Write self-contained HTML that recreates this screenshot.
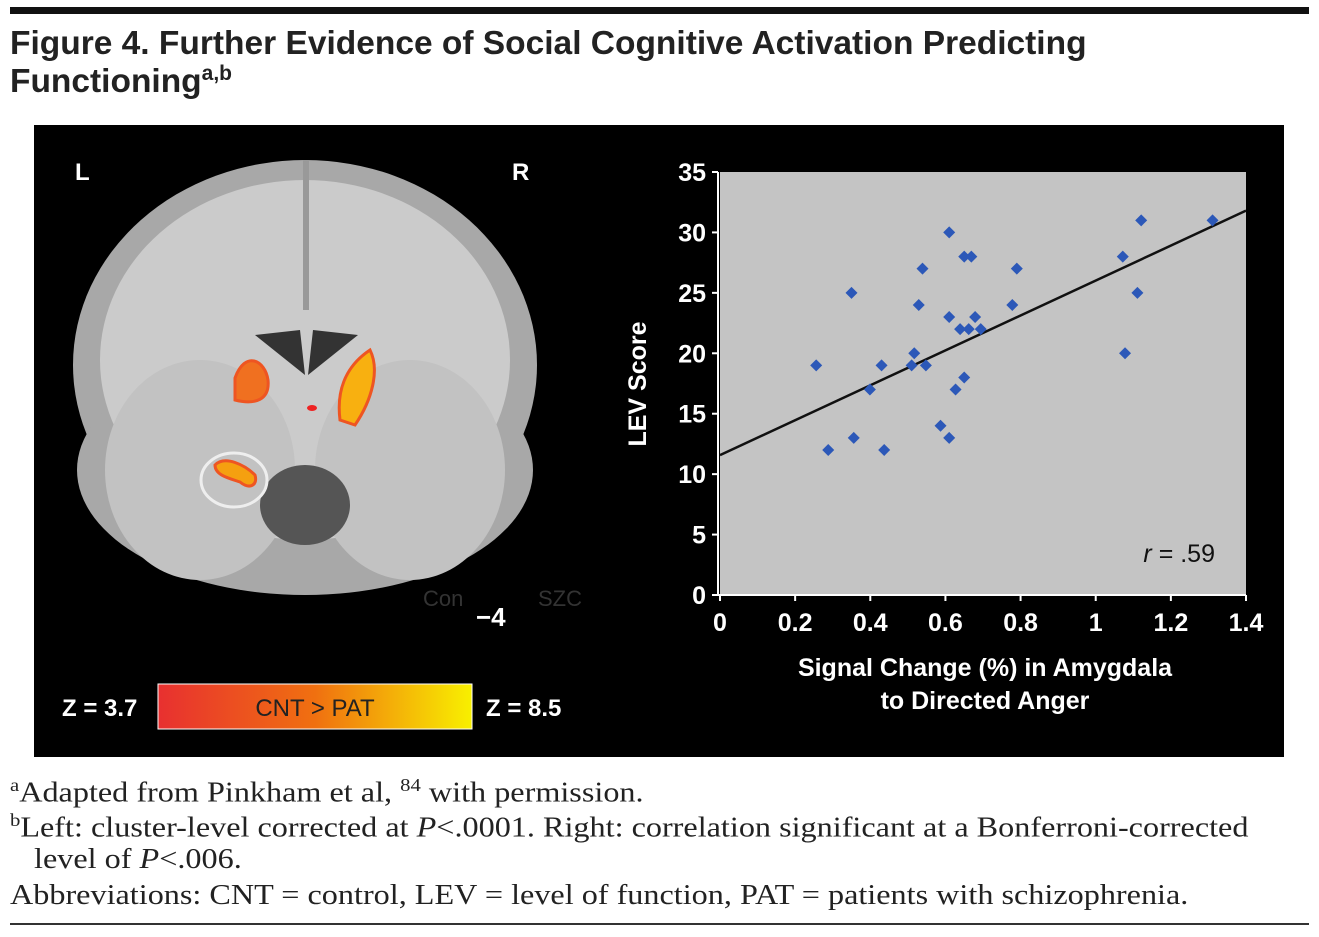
<!DOCTYPE html>
<html><head><meta charset="utf-8"><style>
body{margin:0;width:1319px;height:937px;background:#fff;position:relative;overflow:hidden;font-family:"Liberation Sans",sans-serif}
.abs{position:absolute}
.fn{font-family:"Liberation Serif",serif;font-size:28px;color:#222;position:absolute;white-space:nowrap;transform:scaleX(1.15);transform-origin:0 0}
</style></head><body>
<div class="abs" style="left:10px;top:7px;width:1299px;height:7px;background:#111"></div>
<div class="abs" style="left:10px;top:25px;font-weight:bold;font-size:33.5px;line-height:38px;color:#222">Figure 4. Further Evidence of Social Cognitive Activation Predicting<br>Functioning<sup style="font-size:21px;line-height:0">a,b</sup></div>
<svg class="abs" style="left:0;top:0" width="1319" height="937">
<rect x="34" y="125" width="1250" height="632" fill="#000"/>
<g>
<ellipse cx="305" cy="365" rx="232" ry="205" fill="#a8a8a8"/>
<ellipse cx="305" cy="470" rx="228" ry="125" fill="#a8a8a8"/>
<ellipse cx="305" cy="360" rx="205" ry="180" fill="#cbcbcb"/>
<ellipse cx="200" cy="470" rx="95" ry="110" fill="#c2c2c2"/>
<ellipse cx="410" cy="470" rx="95" ry="110" fill="#c2c2c2"/>
<rect x="303" y="160" width="6" height="150" fill="#999"/>
<path d="M255 335 L300 330 L305 375 Z M358 335 L313 330 L308 375 Z" fill="#333"/>
<ellipse cx="305" cy="505" rx="45" ry="40" fill="#555"/>
<path d="M235 378 C245 350 265 360 268 380 C270 400 255 405 235 400 Z" fill="#f07020" stroke="#e52" stroke-width="3"/>
<path d="M340 420 C335 380 355 360 370 350 C380 370 372 400 355 425 Z" fill="#f8b010" stroke="#e52" stroke-width="3"/>
<ellipse cx="312" cy="408" rx="5" ry="3" fill="#e22"/>
<path d="M215 465 C225 455 245 465 255 475 C258 485 250 490 240 482 C228 478 215 475 215 465 Z" fill="#f5a010" stroke="#e52" stroke-width="3"/>
<ellipse cx="234" cy="480" rx="33" ry="27" fill="none" stroke="#eee" stroke-width="3"/>
</g>
<text x="75" y="180" fill="#fff" font-size="24" font-weight="bold">L</text>
<text x="512" y="180" fill="#fff" font-size="24" font-weight="bold">R</text>
<text x="423" y="606" fill="#333" font-size="22">Con</text>
<text x="538" y="606" fill="#333" font-size="22">SZC</text>
<text x="476" y="626" fill="#fff" font-size="26" font-weight="bold">−4</text>
<defs><linearGradient id="cg" x1="0" x2="1"><stop offset="0" stop-color="#e83030"/><stop offset="0.5" stop-color="#f07010"/><stop offset="1" stop-color="#f8f000"/></linearGradient></defs>
<rect x="158" y="684" width="314" height="45" fill="url(#cg)" stroke="#fff" stroke-width="1"/>
<text x="315" y="716" fill="#222" font-size="24" text-anchor="middle">CNT &gt; PAT</text>
<text x="62" y="716" fill="#fff" font-size="24" font-weight="bold">Z = 3.7</text>
<text x="486" y="716" fill="#fff" font-size="24" font-weight="bold">Z = 8.5</text>
<g id="chart"></g>
</svg>
<div class="fn" style="left:10px;top:775px"><sup style="font-size:18px">a</sup>Adapted from Pinkham et al, <sup style="font-size:18px">84</sup> with permission.</div>
<div class="fn" style="left:10px;top:810px"><sup style="font-size:18px">b</sup>Left: cluster-level corrected at <i>P</i>&lt;.0001. Right: correlation significant at a Bonferroni-corrected</div>
<div class="fn" style="left:34px;top:844px">level of <i>P</i>&lt;.006.</div>
<div class="fn" style="left:10px;top:880px">Abbreviations: CNT = control, LEV = level of function, PAT = patients with schizophrenia.</div>
<div class="abs" style="left:10px;top:923px;width:1299px;height:2px;background:#333"></div>
<script>
const xs=[0.256,0.288,0.35,0.356,0.399,0.43,0.437,0.517,0.51,0.529,0.539,0.548,0.587,0.61,0.61,0.61,0.627,0.639,0.65,0.65,0.662,0.669,0.679,0.694,0.778,0.79,1.072,1.078,1.111,1.121,1.311];
const ys=[19,12,25,13,17,19,12,20,19,24,27,19,14,30,23,13,17,22,18,28,22,28,23,22,24,27,28,20,25,31,31];
const xTicks=[0,0.2,0.4,0.6,0.8,1,1.2,1.4];
const xTickLabels=["0","0.2","0.4","0.6","0.8","1","1.2","1.4"];
const yTicks=[0,5,10,15,20,25,30,35];
const fitLine=[11.57,31.8];
const NS="http://www.w3.org/2000/svg";
const X0=720,X1=1246,Y0=595,Y1=172;
const sx=v=>X0+v/1.4*(X1-X0), sy=v=>Y0-v/35*(Y0-Y1);
const g=document.getElementById('chart');
function mk(t,a){const e=document.createElementNS(NS,t);for(const k in a)e.setAttribute(k,a[k]);g.appendChild(e);return e;}
let e=mk('rect',{x:X0,y:Y1,width:X1-X0,height:Y0-Y1,fill:'#c4c4c4'});


e=mk('line',{x1:X0-2,y1:Y0,x2:X1,y2:Y0,stroke:'#fff','stroke-width':2});


e=mk('line',{x1:X0-2,y1:Y1,x2:X0-2,y2:Y0,stroke:'#fff','stroke-width':2});


xTicks.forEach((v,i)=>{
 let t=mk('line',{x1:sx(v),y1:Y0,x2:sx(v),y2:Y0+6,stroke:'#fff','stroke-width':2});
 
 
 let l=mk('text',{x:sx(v),y:Y0+36,fill:'#fff','font-size':25,'font-weight':'bold','text-anchor':'middle'});
 l.textContent=xTickLabels[i];
 
 
});
yTicks.forEach(v=>{
 let t=mk('line',{x1:X0-8,y1:sy(v),x2:X0-2,y2:sy(v),stroke:'#fff','stroke-width':2});
 
 
 let l=mk('text',{x:X0-14,y:sy(v)+9,fill:'#fff','font-size':25,'font-weight':'bold','text-anchor':'end'});
 l.textContent=v;
 
 
});
e=mk('line',{x1:sx(0),y1:sy(fitLine[0]),x2:sx(1.4),y2:sy(fitLine[1]),stroke:'#111','stroke-width':2.5});


xs.forEach((v,i)=>{
 const cx=sx(v),cy=sy(ys[i]);
 let p=mk('polygon',{points:`${cx},${cy-6} ${cx+6},${cy} ${cx},${cy+6} ${cx-6},${cy}`,fill:'#2c58b8'});
 
 
});
e=mk('text',{x:1215,y:562,fill:'#111','font-size':25,'text-anchor':'end'});
e.innerHTML='<tspan font-style="italic">r</tspan> = .59';


e=mk('text',{x:646,y:384,fill:'#fff','font-size':25,'font-weight':'bold','text-anchor':'middle',transform:'rotate(-90 646 384)'});
e.textContent='LEV Score';


e=mk('text',{x:985,y:676,fill:'#fff','font-size':25,'font-weight':'bold','text-anchor':'middle'});
e.textContent='Signal Change (%) in Amygdala';


e=mk('text',{x:985,y:709,fill:'#fff','font-size':25,'font-weight':'bold','text-anchor':'middle'});
e.textContent='to Directed Anger';


</script>
</body></html>
